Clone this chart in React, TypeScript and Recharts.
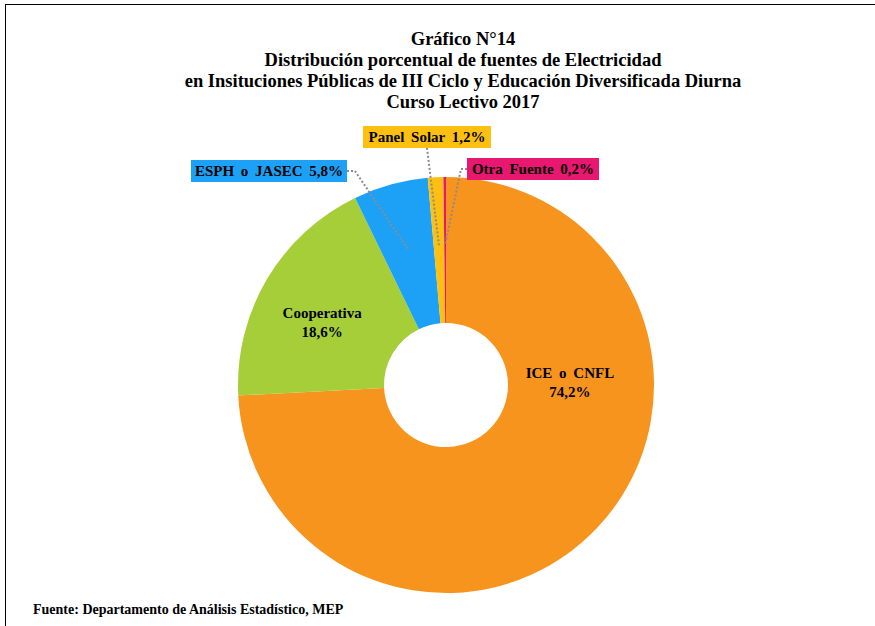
import { PieChart, Pie, Cell } from "recharts";

const categories = ["ICE o CNFL", "Cooperativa", "ESPH o JASEC", "Panel Solar", "Otra Fuente"];
const values = [74.2, 18.6, 5.8, 1.2, 0.2];
const colors = ["#F7941D", "#A6CE39", "#1DA1F7", "#FDC010", "#E8176F"];

const titleLines = [
  "Gráfico N°14",
  "Distribución porcentual de fuentes de Electricidad",
  "en Insituciones Públicas de III Ciclo y Educación Diversificada Diurna",
  "Curso Lectivo 2017",
];
const sourceText = "Fuente: Departamento de Análisis Estadístico, MEP";

const data = categories.map((name, i) => ({ name, value: values[i] }));

const SERIF = "'Liberation Serif', 'Times New Roman', serif";
const RADIAN = Math.PI / 180;

// label placement (inside: polar, outside: boxed callout relative to the pie centre)
const labelLayout: any[] = [
  { kind: "inside", angle: 1.5, r: 124 },
  { kind: "inside", angle: 153, r: 139 },
  { kind: "box", dx: -177, dy: -214, w: 156, link: "right" },
  { kind: "box", dx: -19, dy: -248, w: 128, link: "bottom" },
  { kind: "box", dx: 87, dy: -216, w: 132, link: "left" },
];

const pct = (v: number) => v.toFixed(1).replace(".", ",") + "%";

const renderLabel = (props: any) => {
  const { cx, cy, midAngle, index } = props;
  const cfg = labelLayout[index];
  const name = categories[index];
  const value = values[index];
  const textStyle = {
    fontFamily: SERIF,
    fontWeight: 700,
    fontSize: 15,
    fill: "#000",
    wordSpacing: 3,
  } as any;

  if (cfg.kind === "inside") {
    const a = (cfg.angle ?? midAngle) * RADIAN;
    const x = cx + cfg.r * Math.cos(a);
    const y = cy - cfg.r * Math.sin(a);
    return (
      <text x={x} y={y} textAnchor="middle" style={textStyle}>
        <tspan x={x} dy={-4}>{name}</tspan>
        <tspan x={x} dy={19}>{pct(value)}</tspan>
      </text>
    );
  }

  const bx = cx + cfg.dx;
  const by = cy + cfg.dy;
  const h = 22;
  const a = midAngle * RADIAN;
  const px = cx + 140 * Math.cos(a);
  const py = cy - 140 * Math.sin(a);
  let pts: number[][] = [];
  if (cfg.link === "right") {
    pts = [[bx + cfg.w / 2, by], [bx + cfg.w / 2 + 8, by], [px, py]];
  } else if (cfg.link === "left") {
    pts = [[bx - cfg.w / 2, by], [bx - cfg.w / 2 - 6, by], [px, py]];
  } else {
    pts = [[bx, by + h / 2], [px, py]];
  }
  return (
    <g>
      <polyline
        points={pts.map((p) => p.join(",")).join(" ")}
        fill="none"
        stroke="#8c8c8c"
        strokeWidth={2}
        strokeDasharray="2 2"
      />
      <rect x={bx - cfg.w / 2} y={by - h / 2} width={cfg.w} height={h} fill={colors[index]} />
      <text x={bx} y={by + 5} textAnchor="middle" style={textStyle}>
        {name + " " + pct(value)}
      </text>
    </g>
  );
};

export default function App() {
  return (
    <div
      style={{
        position: "absolute",
        left: 0,
        top: 0,
        width: 875,
        height: 626,
        overflow: "hidden",
        background: "#fff",
      }}
    >
      <div
        style={{
          position: "absolute",
          left: 5,
          top: 4,
          width: 1000,
          height: 1000,
          borderTop: "1px solid #000",
          borderLeft: "1px solid #000",
        }}
      />
      <PieChart
        width={875}
        height={626}
        margin={{ top: 0, right: 0, bottom: 0, left: 0 }}
        style={{ position: "absolute", left: 0, top: 0 }}
      >
        <Pie
          data={data}
          dataKey="value"
          nameKey="name"
          cx={446}
          cy={385}
          innerRadius={62}
          outerRadius={208}
          startAngle={90}
          endAngle={-270}
          stroke="none"
          label={renderLabel}
          labelLine={false}
          isAnimationActive={false}
        >
          {data.map((d, i) => (
            <Cell key={d.name} fill={colors[i]} />
          ))}
        </Pie>
      </PieChart>
      <div
        style={{
          position: "absolute",
          left: 50,
          top: 29,
          width: 826,
          textAlign: "center",
          fontFamily: SERIF,
          fontWeight: 700,
          fontSize: 18.5,
          lineHeight: "21px",
          color: "#000",
        }}
      >
        {titleLines.map((t) => (
          <div key={t}>{t}</div>
        ))}
      </div>
      <div
        style={{
          position: "absolute",
          left: 33,
          top: 601,
          fontFamily: SERIF,
          fontWeight: 700,
          fontSize: 14,
          lineHeight: "18px",
          color: "#000",
        }}
      >
        {sourceText}
      </div>
    </div>
  );
}
